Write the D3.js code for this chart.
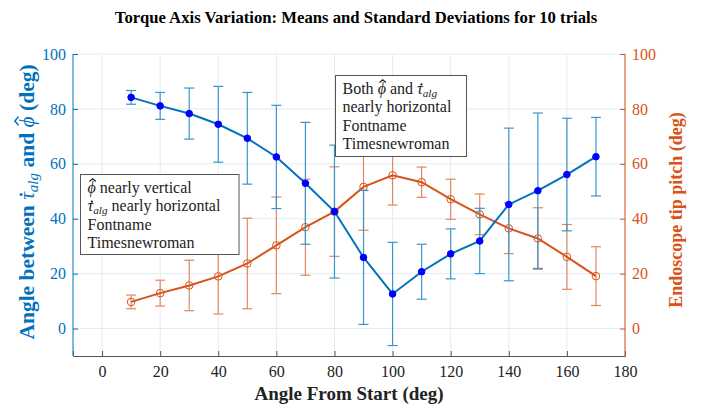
<!DOCTYPE html>
<html><head><meta charset="utf-8">
<script src="https://cdn.jsdelivr.net/npm/d3@7"></script>
<style>body{margin:0;background:#fff}svg{display:block}</style>
</head><body><svg id="c" width="710" height="408"></svg>
<script>
const angles = [10,20,30,40,50,60,70,80,90,100,110,120,130,140,150,160,170];
const blueMean = [84.2,81.1,78.3,74.4,69.3,62.5,52.9,42.6,25.9,12.6,20.7,27.2,31.9,45.2,50.2,56.1,62.6];
const blueStd  = [2.5,4.9,9.3,13.8,16.7,18.8,22.2,24.2,24.4,18.8,10.0,9.1,11.9,27.8,28.3,20.5,14.3];
const orangeMean = [9.7,12.9,15.7,19.0,23.7,30.3,36.9,42.6,51.6,55.8,53.3,47.1,41.6,36.5,32.8,26.1,19.1];
const orangeStd  = [2.5,4.7,9.2,13.7,16.5,17.6,17.5,16.3,15.8,10.8,5.5,7.3,7.4,9.2,11.2,11.8,10.7];
const xTicks = [0,20,40,60,80,100,120,140,160,180];
const yTicks = [0,20,40,60,80,100];

const svg = d3.select("#c");
const L=73, R=625, T=54, B=356;
const x = d3.scaleLinear().domain([-10,180]).range([L,R]);
const yL = d3.scaleLinear().domain([-10,100]).range([B,T]);
const yR = d3.scaleLinear().domain([-10,100]).range([B,T]);
const BLUE="#0072BD", ORANGE="#D95319", serif="'Liberation Serif','Times New Roman',serif";

// grid
const g = svg.append("g");
g.selectAll(".vx").data(xTicks).join("line").attr("x1",d=>x(d)).attr("x2",d=>x(d)).attr("y1",T).attr("y2",B).attr("stroke","#e4ecf2").attr("stroke-width",1);
g.selectAll(".hy").data(yTicks).join("line").attr("x1",L).attr("x2",R).attr("y1",d=>yL(d)).attr("y2",d=>yL(d)).attr("stroke","#e4ecf2").attr("stroke-width",1);

// axes
function styleAxis(sel,color,txt){
  sel.attr("font-family",null).style("font-family",serif);
  sel.select(".domain").attr("stroke",color);
  sel.selectAll(".tick line").attr("stroke",color);
  sel.selectAll("text").style("font-family",serif).attr("font-size",16).attr("fill",txt);
}
const gx = svg.append("g").attr("transform",`translate(0,${B})`).call(d3.axisBottom(x).tickValues(xTicks).tickSize(-5).tickPadding(10));
styleAxis(gx,"#555","#222");
const gl = svg.append("g").attr("transform",`translate(${L},0)`).call(d3.axisLeft(yL).tickValues(yTicks).tickSize(-5).tickPadding(7));
styleAxis(gl,BLUE,BLUE);
gl.select(".domain").attr("d",`M0,${T}V${B}`);
const gr = svg.append("g").attr("transform",`translate(${R},0)`).call(d3.axisRight(yR).tickValues(yTicks).tickSize(-5).tickPadding(7));
styleAxis(gr,ORANGE,ORANGE);
gr.select(".domain").attr("d",`M0,${T}V${B}`);

function series(mean,std,scale,color,errColor,filled){
  const s = svg.append("g");
  const idx = d3.range(angles.length);
  const eb = s.append("g").attr("stroke",errColor).attr("stroke-width",1.2).attr("fill","none");
  eb.selectAll(".v").data(idx).join("line").attr("x1",i=>x(angles[i])).attr("x2",i=>x(angles[i]))
    .attr("y1",i=>scale(mean[i]+std[i])).attr("y2",i=>scale(mean[i]-std[i]));
  eb.selectAll(".t").data(idx).join("line").attr("x1",i=>x(angles[i])-5).attr("x2",i=>x(angles[i])+5)
    .attr("y1",i=>scale(mean[i]+std[i])).attr("y2",i=>scale(mean[i]+std[i]));
  eb.selectAll(".b").data(idx).join("line").attr("x1",i=>x(angles[i])-5).attr("x2",i=>x(angles[i])+5)
    .attr("y1",i=>scale(mean[i]-std[i])).attr("y2",i=>scale(mean[i]-std[i]));
  const line = d3.line().x(i=>x(angles[i])).y(i=>scale(mean[i]));
  s.append("path").attr("d",line(idx)).attr("stroke",color).attr("stroke-width",2).attr("fill","none");
  s.selectAll("circle").data(idx).join("circle").attr("cx",i=>x(angles[i])).attr("cy",i=>scale(mean[i]))
    .attr("r",filled?3.3:3.8).attr("fill",filled?"#0000FF":"none").attr("stroke",filled?"#0000FF":color).attr("stroke-width",1);
}
series(orangeMean,orangeStd,yR,ORANGE,"#E2875F",false);
series(blueMean,blueStd,yL,BLUE,"#3A95CF",true);

// rich text with accents
function rich(parent, x0, y0, size, parts, opts){
  const t = parent.append("text").attr("x",x0).attr("y",y0).style("font-family",serif)
    .attr("font-size",size).attr("fill",opts.fill).attr("text-anchor",opts.anchor||"start");
  if(opts.bold) t.attr("font-weight","bold");
  const accs=[];
  parts.forEach(p=>{
    const ts = t.append("tspan").text(p.t);
    if(p.i) ts.attr("font-style","italic").attr("font-weight","normal");
    if(p.sub) ts.attr("font-size",size*0.7).attr("dy",size*0.18);
    if(p.after) ts.attr("dy",-size*0.18);
    if(p.acc) accs.push([ts,p.acc]);
  });
  accs.forEach(([ts,acc])=>{
    const n = ts.node();
    const st = n.getStartPositionOfChar(0), len = n.getComputedTextLength();
    const cx = st.x + len/2 + (acc==="hat"?1:1.5);
    if(acc==="hat"){
      const h=size*0.17, w=size*0.2, yy=st.y-size*0.72;
      parent.append("path").attr("d",`M${cx-w},${yy}L${cx},${yy-h}L${cx+w},${yy}`)
        .attr("fill","none").attr("stroke",opts.fill).attr("stroke-width",size*0.07);
    } else {
      parent.append("circle").attr("cx",cx).attr("cy",st.y-size*0.6).attr("r",size*0.07).attr("fill",opts.fill);
    }
  });
  return t;
}

// text boxes
function box(x0,y0,w,h,lines){
  const b = svg.append("g");
  b.append("rect").attr("x",x0).attr("y",y0).attr("width",w).attr("height",h).attr("fill","#fff").attr("stroke","#555").attr("stroke-width",1);
  lines.forEach((ln,k)=>rich(b,x0+7,y0+18.5+k*18.3,16,ln,{fill:"#222"}));
}
const PHI={t:"ϕ",i:1,acc:"hat"}, TAU={t:"τ",i:1,acc:"dot"}, ALG={t:"alg",i:1,sub:1};
box(80.5,174.5,158.5,80,[
  [PHI,{t:" nearly vertical"}],
  [TAU,ALG,{t:" nearly horizontal",after:1}],
  [{t:"Fontname"}],[{t:"Timesnewroman"}]]);
box(335.5,75.5,131,81,[
  [{t:"Both "},PHI,{t:" and "},TAU,ALG],
  [{t:"nearly horizontal"}],[{t:"Fontname"}],[{t:"Timesnewroman"}]]);

// title and labels
svg.append("text").attr("x",356).attr("y",23).attr("text-anchor","middle").style("font-family",serif)
  .attr("font-weight","bold").attr("font-size",16.7).attr("fill","#000")
  .text("Torque Axis Variation: Means and Standard Deviations for 10 trials");
svg.append("text").attr("x",349).attr("y",400).attr("text-anchor","middle").style("font-family",serif)
  .attr("font-weight","bold").attr("font-size",19).attr("fill","#222").text("Angle From Start (deg)");
const lg = svg.append("g").attr("transform","translate(34,202) rotate(-90)");
rich(lg,0,0,21.5,[{t:"Angle between "},{t:"τ",i:1,acc:"dot"},{t:"alg",i:1,sub:1},{t:" and ",after:1},{t:"ϕ",i:1,acc:"hat"},{t:" (deg)"}],{fill:BLUE,bold:1,anchor:"middle"});
svg.append("text").attr("transform","translate(682,210) rotate(-90)").attr("text-anchor","middle")
  .style("font-family",serif).attr("font-weight","bold").attr("font-size",18).attr("fill",ORANGE)
  .text("Endoscope tip pitch (deg)");
</script></body></html>
